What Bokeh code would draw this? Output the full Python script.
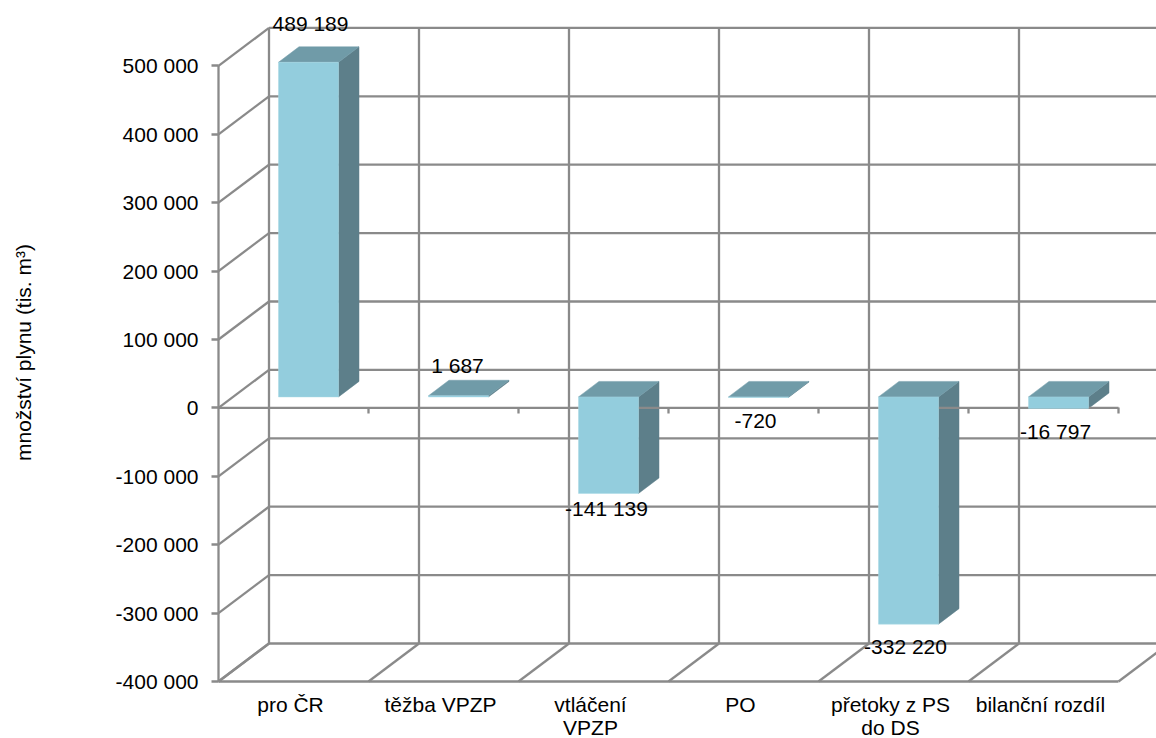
from bokeh.plotting import figure
from bokeh.models import ColumnDataSource, FixedTicker, LinearAxis, Range1d
from bokeh.core.properties import value
from bokeh.embed import file_html
from bokeh.resources import INLINE

# ---- data -----------------------------------------------------------------
categories = ["pro ČR", "těžba VPZP", "vtláčení\nVPZP", "PO", "přetoky z PS\ndo DS", "bilanční rozdíl"]
values = [489189, 1687, -141139, -720, -332220, -16797]
value_labels = ["489 189", "1 687", "-141 139", "-720", "-332 220", "-16 797"]
y_ticks = [-400000, -300000, -200000, -100000, 0, 100000, 200000, 300000, 400000, 500000]
y_tick_labels = ["-400 000", "-300 000", "-200 000", "-100 000", "0",
                 "100 000", "200 000", "300 000", "400 000", "500 000"]
y_title = "množství plynu (tis. m³)"

# ---- layout / style -------------------------------------------------------
W, H = 1156, 738
LEFT, BOTTOM_PX = 218, 681       # where category 0 / the lowest tick fall on the canvas
PX_X = 150.0                     # pixels per category
PX_Y = 0.684 / 1000.0            # pixels per value unit
FONT = "Liberation Sans"
FS = "21px"
GRID = "#8a8a8a"
LW = 2.3
FRONT, TOP, SIDE = "#93cddd", "#709ba8", "#5d7f8a"
label_dx = [2, -1, -2, -3, -3, -3]       # px nudges of the data labels
label_dy = [38.5, 30, -15, -23.5, -22, -23.5]


def dx(px):
    return px / PX_X


def dy(px):
    return px / PX_Y


back_x, back_y = dx(50.5), dy(38)        # wall depth
gap_x, gap_y = dx(15), dy(11)            # bar plane in front of wall
deep_x, deep_y = dx(20.5), dy(15.5)      # bar depth
bar_w = 0.4
y_lo, y_hi = y_ticks[0], y_ticks[-1]
n = len(categories)

# the plot box fills the canvas, so that every text sits inside it
x_range = Range1d(-dx(LEFT), dx(W - LEFT))
y_range = Range1d(y_lo - dy(H - BOTTOM_PX), y_lo + dy(BOTTOM_PX))

p = figure(width=W, height=H, output_backend="svg", toolbar_location=None,
           x_range=x_range, y_range=y_range,
           x_axis_location=None, y_axis_location=None,
           min_border=0, outline_line_color=None)
p.grid.visible = False
p.background_fill_color = "white"

# back wall and floor
wall = dict(line_color=GRID, line_width=LW)
p.segment([back_x] * len(y_ticks), [t + back_y for t in y_ticks],
          [n + back_x] * len(y_ticks), [t + back_y for t in y_ticks], **wall)
p.segment([i + back_x for i in range(n + 1)], [y_lo + back_y] * (n + 1),
          [i + back_x for i in range(n + 1)], [y_hi + back_y] * (n + 1), **wall)
p.segment([0] * len(y_ticks), y_ticks, [back_x] * len(y_ticks),
          [t + back_y for t in y_ticks], **wall)
p.segment(list(range(n + 1)), [y_lo] * (n + 1),
          [i + back_x for i in range(n + 1)], [y_lo + back_y] * (n + 1), **wall)
p.segment([0], [y_lo], [n], [y_lo], **wall)

# bars
lefts = [i + 0.5 - bar_w / 2 + gap_x for i in range(n)]
rights = [l + bar_w for l in lefts]
lows = [min(v, 0) + gap_y for v in values]
highs = [max(v, 0) + gap_y for v in values]

p.patches([[r, r + deep_x, r + deep_x, r] for r in rights],
          [[l, l + deep_y, h + deep_y, h] for l, h in zip(lows, highs)],
          fill_color=SIDE, line_color=SIDE, line_width=0.5)
# zero line of the category axis runs over the sides, under the fronts
p.segment([0], [0], [n], [0], **wall)
p.patches([[l, l + deep_x, r + deep_x, r] for l, r in zip(lefts, rights)],
          [[h, h + deep_y, h + deep_y, h] for h in highs],
          fill_color=TOP, line_color=TOP, line_width=0.5)
p.quad(left=lefts, right=rights, bottom=lows, top=highs,
       fill_color=FRONT, line_color="#a6d8e4", line_width=0.5)

# data labels
tops = [h if v > 0 else l for v, h, l in zip(values, highs, lows)]
src = ColumnDataSource(dict(x=[(l + r) / 2 for l, r in zip(lefts, rights)], y=tops,
                            t=value_labels, xo=label_dx, yo=[-d for d in label_dy]))
p.text(x="x", y="y", text="t", source=src, x_offset="xo", y_offset="yo",
       text_font=value(FONT), text_font_size=value(FS), text_color="black",
       text_align="center", text_baseline="middle")

# category labels
centres = [i + 0.5 for i in range(n)]
p.text(x=centres, y=[y_lo] * n, text=categories, x_offset=-3, y_offset=11,
       text_font=value(FONT), text_font_size=value(FS), text_color="black",
       text_align="center", text_baseline="top", text_line_height=1.0)

# value axis
ya = LinearAxis(ticker=FixedTicker(ticks=y_ticks), bounds=(y_lo, y_hi), fixed_location=0,
                major_label_overrides=dict(zip(y_ticks, y_tick_labels)),
                axis_line_color=GRID, axis_line_width=LW,
                major_tick_line_color=GRID, major_tick_line_width=LW,
                major_tick_in=0, major_tick_out=7, minor_tick_out=0, minor_tick_in=0,
                major_label_standoff=13, major_label_text_font=FONT,
                major_label_text_font_size=FS, major_label_text_color="black")
p.add_layout(ya, "left")

# tick marks on the zero line
za = LinearAxis(ticker=FixedTicker(ticks=list(range(1, n + 1))), bounds=(0, n), fixed_location=0,
                axis_line_color=None, major_tick_line_color=GRID, major_tick_line_width=LW,
                major_tick_in=0, major_tick_out=6, minor_tick_line_color=None,
                major_label_text_color=None, major_label_text_font_size="1px")
p.add_layout(za, "below")

# value-axis title
p.text(x=[dx(23 - LEFT)], y=[y_lo + dy(BOTTOM_PX - 352)], text=[y_title],
       angle=90, angle_units="deg", text_font=value(FONT), text_font_size=value("21px"),
       text_color="black", text_align="center", text_baseline="middle")

open("out.html", "w").write(file_html(p, INLINE))
